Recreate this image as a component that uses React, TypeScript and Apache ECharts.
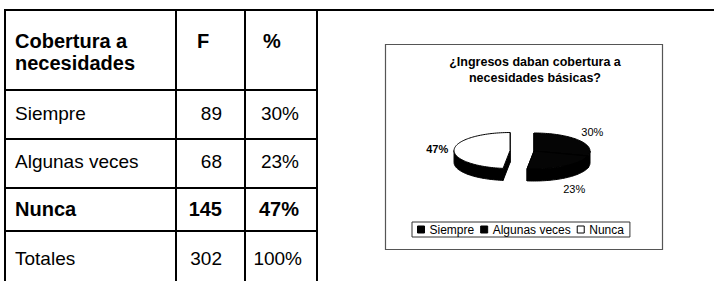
import React, { useEffect, useRef } from "react";
import * as echarts from "echarts";

// ---- data ----
const headerTitle = ["Cobertura a", "necesidades"];
const headerF = "F";
const headerPct = "%";
const categories = ["Siempre", "Algunas veces", "Nunca"];
const frequencies = [89, 68, 145];
const percentLabels = ["30%", "23%", "47%"];
const boldRows = [false, false, true];
const totalLabel = "Totales";
const totalFrequency = 302;
const totalPercent = "100%";
const chartTitle = ["¿Ingresos daban cobertura a", "necesidades básicas?"];
const sliceFill = ["#050505", "#050505", "#ffffff"];

const FONT = "'Liberation Sans', Arial, Helvetica, sans-serif";

export default function App() {
  const ref = useRef<HTMLDivElement>(null);

  useEffect(() => {
    if (!ref.current) return;
    const chart = echarts.init(ref.current, undefined, { renderer: "svg" });

    // ----- table geometry -----
    const colX = [5, 176, 245, 317];
    const rowY = [90, 139, 188, 231];
    const rowMid = [113, 161.5, 209, 258.5];
    const graphic: any[] = [];
    const line = (x1: number, y1: number, x2: number, y2: number) =>
      graphic.push({
        type: "line",
        silent: true,
        shape: { x1, y1, x2, y2 },
        style: { stroke: "#000", lineWidth: 2 },
      });
    line(4, 10, 714, 10);
    colX.forEach((x) => line(x, 9, x, 281));
    rowY.forEach((y) => line(4, y, 318, y));

    const txt = (
      text: string,
      x: number,
      y: number,
      opts: { bold?: boolean; size?: number; align?: string } = {}
    ) =>
      graphic.push({
        type: "text",
        silent: true,
        x,
        y,
        style: {
          text,
          fill: "#000",
          fontFamily: FONT,
          fontSize: opts.size ?? 19,
          fontWeight: opts.bold ? "bold" : "normal",
          align: opts.align ?? "left",
          verticalAlign: "middle",
        },
      });

    txt(headerTitle[0], 15, 41, { bold: true, size: 20 });
    txt(headerTitle[1], 15, 63, { bold: true, size: 20 });
    txt(headerF, 197, 41, { bold: true, size: 20 });
    txt(headerPct, 263, 41, { bold: true, size: 20 });

    categories.forEach((c, i) => {
      const b = boldRows[i];
      txt(c, 15, rowMid[i], { bold: b, size: b ? 20 : 19 });
      txt(String(frequencies[i]), 222, rowMid[i], { bold: b, size: b ? 20 : 19, align: "right" });
      txt(percentLabels[i], 299, rowMid[i], { bold: b, size: b ? 20 : 19, align: "right" });
    });
    txt(totalLabel, 15, rowMid[3]);
    txt(String(totalFrequency), 222, rowMid[3], { align: "right" });
    txt(totalPercent, 302, rowMid[3], { align: "right" });

    // chart frame
    graphic.push({
      type: "rect",
      silent: true,
      shape: { x: 385.5, y: 44.5, width: 277, height: 205 },
      style: { fill: "none", stroke: "#555", lineWidth: 1.2 },
    });
    graphic.push({
      type: "text",
      silent: true,
      x: 535,
      y: 54,
      style: {
        text: chartTitle.join("\n"),
        fill: "#000",
        fontFamily: FONT,
        fontSize: 12.5,
        fontWeight: "bold",
        lineHeight: 16,
        align: "center",
        verticalAlign: "top",
      },
    });

    // ----- 3D exploded pie via custom series -----
    const total = frequencies.reduce((a, b) => a + b, 0);
    const CX = 534;
    const CY = 151;
    const RX = 56;
    const RY = 18;
    const DEPTH = 12;
    const explode = [0, 0, 24];
    const pt = (cx: number, cy: number, a: number, rx: number, ry: number) => [
      cx + rx * Math.sin(a),
      cy - ry * Math.cos(a),
    ];
    const arc = (cx: number, cy: number, a0: number, a1: number) => {
      const n = Math.max(2, Math.ceil((a1 - a0) / (Math.PI / 90)));
      const pts: number[][] = [];
      for (let k = 0; k <= n; k++) pts.push(pt(cx, cy, a0 + ((a1 - a0) * k) / n, RX, RY));
      return pts;
    };

    const series = categories.map((name, i) => {
      const before = frequencies.slice(0, i).reduce((a, b) => a + b, 0);
      return {
        type: "custom",
        name,
        coordinateSystem: "none",
        silent: true,
        itemStyle: {
          color: sliceFill[i],
          borderColor: "#000",
          borderWidth: 1,
        },
        data: [[frequencies[i]]],
        renderItem: (_params: any, api: any) => {
          const v = api.value(0) as number;
          const a0 = (before / total) * Math.PI * 2;
          const a1 = a0 + (v / total) * Math.PI * 2;
          const mid = (a0 + a1) / 2;
          const cx = CX + explode[i] * Math.sin(mid);
          const cy = CY - explode[i] * Math.cos(mid) * (RY / RX);
          const children: any[] = [];
          const wallStyle = { fill: "#000", stroke: "#000", lineWidth: 1 };
          [a0, a1].forEach((a) => {
            const p = pt(cx, cy, a, RX, RY);
            children.push({
              type: "polygon",
              shape: { points: [[cx, cy], p, [p[0], p[1] + DEPTH], [cx, cy + DEPTH]] },
              style: wallStyle,
            });
          });
          const s = Math.max(a0, Math.PI / 2);
          const e = Math.min(a1, (Math.PI * 3) / 2);
          if (e > s) {
            const topArc = arc(cx, cy, s, e);
            const bottom = topArc.map((p) => [p[0], p[1] + DEPTH]).reverse();
            children.push({
              type: "polygon",
              shape: { points: topArc.concat(bottom) },
              style: wallStyle,
            });
          }
          children.push({
            type: "polygon",
            shape: { points: [[cx, cy]].concat(arc(cx, cy, a0, a1)) },
            style: { fill: sliceFill[i], stroke: "#000", lineWidth: 1 },
          });
          const lp = pt(cx, cy, mid, 73, 31);
          if (Math.cos(mid) < 0) lp[1] += DEPTH;
          children.push({
            type: "text",
            x: lp[0],
            y: lp[1],
            style: {
              text: percentLabels[i],
              fill: "#000",
              fontFamily: FONT,
              fontSize: 11,
              fontWeight: i === 2 ? "bold" : "normal",
              align: "center",
              verticalAlign: "middle",
            },
          });
          return { type: "group", children };
        },
      };
    });

    chart.setOption({
      animation: false,
      backgroundColor: "#ffffff",
      graphic,
      legend: {
        left: 412,
        top: 222,
        orient: "horizontal",
        padding: [1, 6, 1, 5],
        itemGap: 6,
        itemWidth: 7,
        itemHeight: 7,
        borderColor: "#333",
        borderWidth: 1,
        selectedMode: false,
        textStyle: { fontFamily: FONT, fontSize: 12, color: "#000", lineHeight: 13 },
        data: categories.map((name, i) => ({
          name,
          icon: "rect",
          itemStyle:
            i === 2
              ? { color: "#fff", borderColor: "#000", borderWidth: 1 }
              : { color: "#000", borderColor: "#000", borderWidth: 1 },
        })),
      },
      series,
    });

    return () => chart.dispose();
  }, []);

  return (
    <div
      ref={ref}
      style={{ position: "absolute", left: 0, top: 0, width: 714, height: 281 }}
    />
  );
}
